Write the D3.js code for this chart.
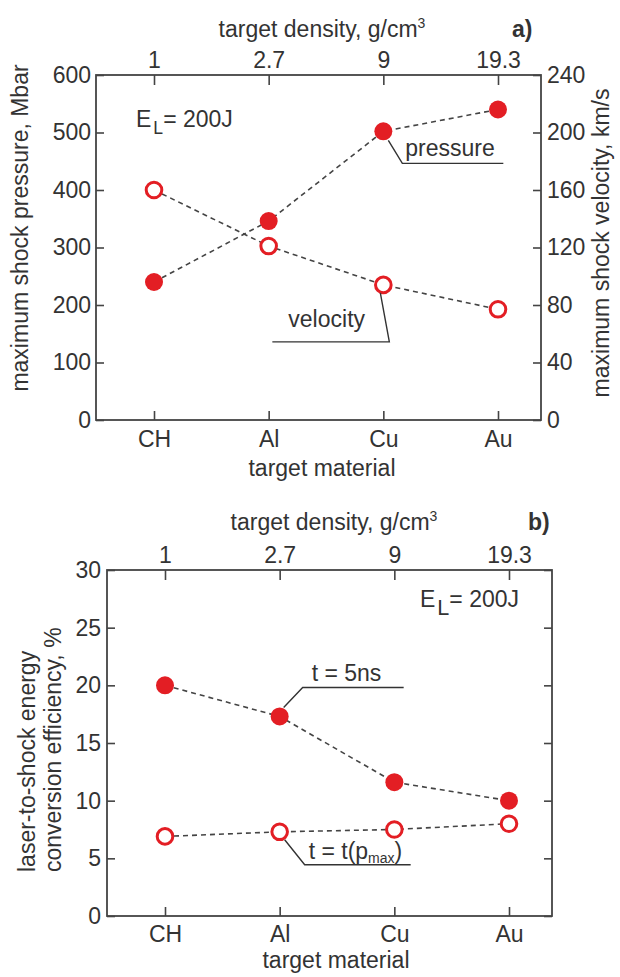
<!DOCTYPE html>
<html>
<head>
<meta charset="utf-8">
<script src="https://cdn.jsdelivr.net/npm/d3@7/dist/d3.min.js"></script>
<style>
  body { margin: 0; background: #fff; }
  svg { display: block; font-family: 'Liberation Sans', Arial, sans-serif; }
  .axis text { fill: #333; font-size: 23px; }
  .axis line { stroke: #444; stroke-width: 1.6; }
  .axis path { display: none; }
  .lbl { fill: #333; font-size: 23px; }
</style>
</head>
<body>
<div id="chart"></div>
<script>
// datos
const materials = ['CH', 'Al', 'Cu', 'Au'];
const densities = ['1', '2.7', '9', '19.3'];

const pressure = [240, 346, 502, 540];      // Mbar
const velocity = [160, 121, 94, 77];        // km/s
const pressureTicks = [0, 100, 200, 300, 400, 500, 600];
const velocityTicks = [0, 40, 80, 120, 160, 200, 240];

const eff5ns = [20, 17.3, 11.6, 10];        // %
const effPmax = [6.9, 7.3, 7.5, 8.0];       // %
const effTicks = [0, 5, 10, 15, 20, 25, 30];

const RED = '#e31e24';
const INK = '#444';

const svg = d3.select('#chart')
    .append('svg')
    .attr('width', 620)
    .attr('height', 977);

// Marco, ejes y escalas comunes de cada panel
function drawPanel(box, yDomain, yTicks, y2Domain, y2Ticks, pad) {
    const x = d3.scalePoint().domain(materials).range([box.left + 58, box.right - 43]);
    const xTop = d3.scalePoint().domain(densities).range([box.left + 58, box.right - 43]);
    const y = d3.scaleLinear().domain(yDomain).range([box.bottom, box.top]);
    const y2 = d3.scaleLinear().domain(y2Domain).range([box.bottom, box.top]);

    svg.append('g').attr('class', 'axis')
        .attr('transform', `translate(0,${box.bottom})`)
        .call(d3.axisBottom(x).tickSizeInner(-9).tickSizeOuter(0).tickPadding(pad.bottom));

    svg.append('g').attr('class', 'axis')
        .attr('transform', `translate(0,${box.top})`)
        .call(d3.axisTop(xTop).tickSizeInner(-10).tickSizeOuter(0).tickPadding(pad.top));

    svg.append('g').attr('class', 'axis')
        .attr('transform', `translate(${box.left},0)`)
        .call(d3.axisLeft(y).tickValues(yTicks).tickSizeInner(-8).tickSizeOuter(0).tickPadding(pad.left));

    const right = svg.append('g').attr('class', 'axis')
        .attr('transform', `translate(${box.right},0)`)
        .call(d3.axisRight(y2).tickValues(y2Ticks).tickSizeInner(-8).tickSizeOuter(0).tickPadding(pad.right));
    if (!pad.rightLabels) right.selectAll('text').remove();

    svg.append('rect')
        .attr('x', box.left).attr('y', box.top)
        .attr('width', box.right - box.left).attr('height', box.bottom - box.top)
        .attr('fill', 'none').attr('stroke', INK).attr('stroke-width', 1.8);

    return { x, y, y2 };
}

function dashed(points) {
    svg.append('path')
        .attr('d', d3.line()(points))
        .attr('fill', 'none')
        .attr('stroke', INK)
        .attr('stroke-width', 1.6)
        .attr('stroke-dasharray', '5,4');
}

function markers(points, filled) {
    svg.append('g')
        .selectAll('circle')
        .data(points)
        .enter().append('circle')
        .attr('cx', d => d[0])
        .attr('cy', d => d[1])
        .attr('r', filled ? 9 : 7.8)
        .attr('fill', filled ? RED : '#fff')
        .attr('stroke', RED)
        .attr('stroke-width', filled ? 0 : 3);
}

function leader(points) {
    svg.append('path')
        .attr('d', d3.line()(points))
        .attr('fill', 'none')
        .attr('stroke', '#333')
        .attr('stroke-width', 1.4);
}

function densityTitle(cx, y, tag, tagX) {
    const t = svg.append('text').attr('class', 'lbl')
        .attr('x', cx).attr('y', y).attr('text-anchor', 'middle');
    t.append('tspan').text('target density, g/cm');
    t.append('tspan').attr('dy', -9).attr('font-size', 14).text('3');
    svg.append('text').attr('class', 'lbl')
        .attr('x', tagX).attr('y', y)
        .attr('font-weight', 'bold').attr('font-size', 20)
        .text(tag);
}

function energyLabel(x0, y0, size) {
    const t = svg.append('text').attr('class', 'lbl')
        .attr('x', x0).attr('y', y0).attr('font-size', size);
    t.append('tspan').text('E');
    t.append('tspan').attr('dx', 2).attr('dy', size * 0.3).attr('font-size', size * 0.8).text('L');
    t.append('tspan').attr('dy', -size * 0.3).text('= 200J');
}

// ---------- panel a ----------
const a = drawPanel({ left: 96, right: 541, top: 75, bottom: 420 },
    [0, 600], pressureTicks, [0, 240], velocityTicks,
    { bottom: 11, top: 7, left: 5, right: 6, rightLabels: true });

const presPts = materials.map((m, i) => [a.x(m), a.y(pressure[i])]);
const velPts = materials.map((m, i) => [a.x(m), a.y2(velocity[i])]);

dashed(presPts);
dashed(velPts);
markers(presPts, true);
markers(velPts, false);

densityTitle(322, 37, 'a)', 512);
energyLabel(136, 127, 22);

// leyenda "pressure"
const pc = presPts[2];
leader([[pc[0] + 5, pc[1] + 9], [pc[0] + 19, pc[1] + 32], [pc[0] + 120, pc[1] + 32]]);
svg.append('text').attr('class', 'lbl')
    .attr('x', pc[0] + 22).attr('y', pc[1] + 25).text('pressure');

// leyenda "velocity"
const vc = velPts[2];
leader([[vc[0] - 3, vc[1] + 8], [vc[0] + 6, vc[1] + 57], [vc[0] - 111, vc[1] + 57]]);
svg.append('text').attr('class', 'lbl')
    .attr('x', vc[0] - 95).attr('y', vc[1] + 42).text('velocity');

svg.append('text').attr('class', 'lbl')
    .attr('x', 322).attr('y', 476).attr('text-anchor', 'middle')
    .text('target material');

svg.append('text').attr('class', 'lbl')
    .attr('transform', 'translate(20,228) rotate(-90)')
    .attr('text-anchor', 'middle').attr('dominant-baseline', 'central')
    .text('maximum shock pressure, Mbar');

svg.append('text').attr('class', 'lbl')
    .attr('transform', 'translate(601,243) rotate(-90)')
    .attr('text-anchor', 'middle').attr('dominant-baseline', 'central')
    .text('maximum shock velocity, km/s');

// ---------- panel b ----------
const b = drawPanel({ left: 107, right: 552, top: 570, bottom: 916 },
    [0, 30], effTicks, [0, 30], effTicks,
    { bottom: 10, top: 7, left: 6, right: 6, rightLabels: false });

const p5Pts = materials.map((m, i) => [b.x(m), b.y(eff5ns[i])]);
const pmPts = materials.map((m, i) => [b.x(m), b.y(effPmax[i])]);

dashed(p5Pts);
dashed(pmPts);
markers(p5Pts, true);
markers(pmPts, false);

densityTitle(334, 530, 'b)', 528);
energyLabel(420, 607, 27);

// leyenda "t = 5ns"
const fc = p5Pts[1];
leader([[fc[0] + 4, fc[1] - 9], [fc[0] + 23, fc[1] - 29], [fc[0] + 124, fc[1] - 29]]);
svg.append('text').attr('class', 'lbl')
    .attr('x', fc[0] + 32).attr('y', fc[1] - 35).text('t = 5ns');

// leyenda "t = t(pmax)"
const oc = pmPts[1];
leader([[oc[0] + 5, oc[1] + 8], [oc[0] + 25, oc[1] + 33], [oc[0] + 131, oc[1] + 33]]);
const tp = svg.append('text').attr('class', 'lbl')
    .attr('x', oc[0] + 29).attr('y', oc[1] + 27);
tp.append('tspan').text('t = t(p');
tp.append('tspan').attr('dy', 4).attr('font-size', 14).text('max');
tp.append('tspan').attr('dy', -4).text(')');

svg.append('text').attr('class', 'lbl')
    .attr('x', 336).attr('y', 968).attr('text-anchor', 'middle')
    .text('target material');

svg.append('text').attr('class', 'lbl')
    .attr('transform', 'translate(27,872) rotate(-90)')
    .attr('dominant-baseline', 'central')
    .text('laser-to-shock energy');

svg.append('text').attr('class', 'lbl')
    .attr('transform', 'translate(53,872) rotate(-90)')
    .attr('dominant-baseline', 'central')
    .text('conversion efficiency, %');
</script>
</body>
</html>
